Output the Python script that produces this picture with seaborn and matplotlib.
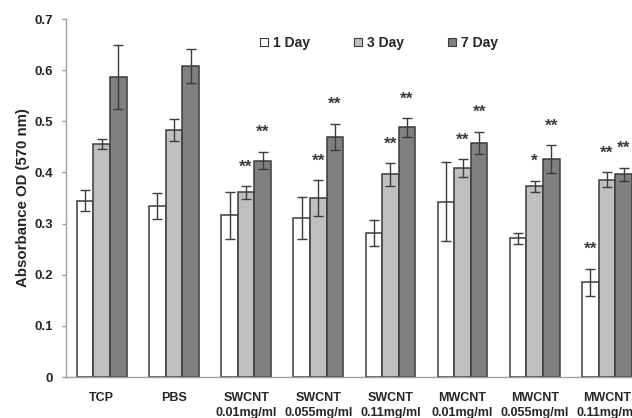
import matplotlib
matplotlib.use("Agg")
import matplotlib.pyplot as plt
import seaborn as sns
import pandas as pd
import numpy as np

categories = ["TCP", "PBS", "SWCNT\n0.01mg/ml", "SWCNT\n0.055mg/ml", "SWCNT\n0.11mg/ml",
              "MWCNT\n0.01mg/ml", "MWCNT\n0.055mg/ml", "MWCNT\n0.11mg/ml"]
series = ["1 Day", "3 Day", "7 Day"]
day1 = [0.345, 0.334, 0.316, 0.311, 0.282, 0.343, 0.271, 0.185]
day3 = [0.455, 0.483, 0.361, 0.350, 0.396, 0.409, 0.373, 0.386]
day7 = [0.587, 0.608, 0.423, 0.469, 0.488, 0.458, 0.426, 0.396]
err1 = [0.020, 0.025, 0.046, 0.041, 0.025, 0.077, 0.011, 0.026]
err3 = [0.010, 0.021, 0.012, 0.035, 0.022, 0.017, 0.011, 0.014]
err7 = [0.062, 0.033, 0.017, 0.026, 0.018, 0.021, 0.027, 0.013]
stars1 = ["", "", "", "", "", "", "", "**"]
stars3 = ["", "", "**", "**", "**", "**", "*", "**"]
stars7 = ["", "", "**", "**", "**", "**", "**", "**"]
yticks = [0, 0.1, 0.2, 0.3, 0.4, 0.5, 0.6, 0.7]
ytick_labels = ["0", "0.1", "0.2", "0.3", "0.4", "0.5", "0.6", "0.7"]

df = pd.DataFrame({
    "cat": categories * 3,
    "series": sum([[s] * len(categories) for s in series], []),
    "val": day1 + day3 + day7,
})
errs = [err1, err3, err7]
stars = [stars1, stars3, stars7]
colors = ["#ffffff", "#bfbfbf", "#808080"]

sns.set_style("white")
plt.rcParams["font.family"] = ["Liberation Sans", "DejaVu Sans"]
plt.rcParams["font.weight"] = "bold"

fig = plt.figure(figsize=(6.32, 4.18), dpi=100)
W, H = 632, 418
x0, x1, ytop, ybot = 65.7, 643.0, 19.0, 377.0
ax = fig.add_axes([x0 / W, (H - ybot) / H, (x1 - x0) / W, (ybot - ytop) / H])

sns.barplot(data=df, x="cat", y="val", hue="series", order=categories, hue_order=series,
            palette=colors, width=0.69, edgecolor="#3c3c3c", linewidth=1.1,
            errorbar=None, ax=ax, legend=True, saturation=1)

for cont, e, st in zip(ax.containers, errs, stars):
    xs = [p.get_x() + p.get_width() / 2 for p in cont.patches]
    hs = [p.get_height() for p in cont.patches]
    ax.errorbar(xs, hs, yerr=e, fmt="none", ecolor="#3c3c3c", elinewidth=1.0,
                capsize=3.5, capthick=1.0, zorder=5)
    for xx, hh, ee, s in zip(xs, hs, e, st):
        if s:
            ax.text(xx, hh + ee + 0.029, s, ha="center", va="baseline", fontsize=12.5,
                    fontweight="bold", color="#3c3c3c")

ax.set_ylim(0, 0.7)
ax.set_xlim(-0.5, len(categories) - 0.5)
ax.set_yticks(yticks)
ax.set_yticklabels(ytick_labels, fontsize=9.5, fontweight="bold")
ax.set_xticks(range(len(categories)))
ax.set_xticklabels(categories, fontsize=9, fontweight="bold", linespacing=1.3)
ax.set_xticks(np.arange(0.5, len(categories) - 0.5, 1), minor=True)
ax.tick_params(axis="x", which="major", length=0, pad=11)
ax.tick_params(axis="x", which="minor", length=4, width=1, color="#a0a0a0", direction="out")
ax.tick_params(axis="y", length=3, width=1, color="#a0a0a0", direction="out", pad=6, left=True)
ax.set_xlabel("")
ax.set_ylabel("Absorbance OD (570 nm)", fontsize=10.8, fontweight="bold")
ax.yaxis.set_label_coords(-0.061, 0.5)
for side in ["top", "right"]:
    ax.spines[side].set_visible(False)
for side in ["left", "bottom"]:
    ax.spines[side].set_color("#a0a0a0")
    ax.spines[side].set_linewidth(1.0)

leg = ax.legend(loc="center", bbox_to_anchor=(379 / W, (H - 43) / H),
                bbox_transform=fig.transFigure, ncol=3, frameon=False,
                handlelength=0.55, handleheight=0.55, handletextpad=0.35,
                columnspacing=3.2, prop={"size": 10, "weight": "bold"})
for h in leg.legend_handles:
    h.set_edgecolor("#3c3c3c")
    h.set_linewidth(0.8)

fig.savefig("out.png", dpi=100)
